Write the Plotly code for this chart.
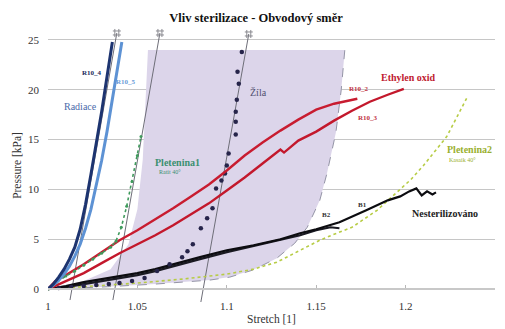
import plotly.graph_objects as go

# ---- measured curves: stretch [1] vs pressure [kPa] ----
r10_4_x = [1.000, 1.003, 1.006, 1.009, 1.012, 1.015, 1.018, 1.021, 1.024, 1.027, 1.030, 1.033, 1.036]
r10_4_p = [0, 0.5, 1.2, 2.0, 3.0, 4.2, 6.0, 8.5, 11.5, 14.5, 17.8, 21.3, 24.8]

r10_5_x = [1.000, 1.003, 1.006, 1.009, 1.012, 1.015, 1.018, 1.021, 1.024, 1.027, 1.030, 1.033, 1.036, 1.039, 1.0413]
r10_5_p = [0, 0.4, 0.9, 1.5, 2.3, 3.3, 4.5, 6.1, 8.0, 10.3, 12.9, 15.8, 19.0, 22.2, 24.8]

plet1_x = [1.000, 1.005, 1.010, 1.015, 1.020, 1.025, 1.030, 1.035, 1.038, 1.041, 1.044, 1.047, 1.050, 1.052]
plet1_p = [0, 0.7, 1.3, 1.8, 2.4, 3.0, 3.6, 4.2, 4.8, 6.2, 8.3, 10.8, 13.4, 15.3]

zila_x = [1.006, 1.013, 1.020, 1.027, 1.034, 1.040, 1.047, 1.054, 1.061, 1.068, 1.075, 1.078, 1.081, 1.0855,
          1.089, 1.092, 1.094, 1.097, 1.099, 1.100, 1.101, 1.105, 1.105, 1.105, 1.1056, 1.1067, 1.106, 1.1084]
zila_p = [0.1, 0.2, 0.3, 0.4, 0.5, 0.6, 0.8, 1.1, 1.8, 2.5, 3.2, 3.8, 4.5, 6.1,
          7.1, 8.1, 10.1, 10.9, 11.6, 12.4, 13.6, 15.5, 16.8, 17.8, 19.0, 20.6, 21.8, 23.8]

r10_2_x = [1.000, 1.004, 1.010, 1.020, 1.030, 1.040, 1.050, 1.060, 1.070, 1.080, 1.090, 1.100, 1.110,
           1.120, 1.130, 1.140, 1.150, 1.160, 1.173]
r10_2_p = [0, 0.8, 1.4, 2.5, 3.7, 4.9, 5.9, 7.0, 8.1, 9.3, 10.5, 11.9, 13.4, 14.7, 15.9, 17.0, 18.0, 18.6, 19.1]

r10_3_x = [1.000, 1.005, 1.010, 1.020, 1.030, 1.040, 1.050, 1.060, 1.070, 1.080, 1.090, 1.100, 1.110,
           1.120, 1.130, 1.132, 1.140, 1.150, 1.160, 1.170, 1.180, 1.190, 1.199]
r10_3_p = [0, 0.4, 0.8, 1.6, 2.6, 3.6, 4.5, 5.4, 6.4, 7.5, 8.6, 9.9, 11.2, 12.6, 14.0, 13.7, 14.9, 15.8,
           16.9, 17.9, 18.8, 19.5, 20.1]

b1_x = [1.000, 1.010, 1.020, 1.030, 1.040, 1.050, 1.060, 1.070, 1.085, 1.100, 1.115, 1.130, 1.141, 1.150,
        1.163, 1.178, 1.190, 1.197, 1.202, 1.206, 1.209, 1.212, 1.215, 1.217]
b1_p = [0, 0.3, 0.7, 1.0, 1.3, 1.6, 2.0, 2.5, 3.2, 3.9, 4.4, 5.0, 5.6, 6.0, 6.7, 7.9, 8.9, 9.3, 9.8, 10.1,
        9.4, 9.8, 9.5, 9.7]

b2_x = [1.000, 1.010, 1.020, 1.030, 1.040, 1.050, 1.060, 1.070, 1.085, 1.100, 1.115, 1.130, 1.141, 1.150,
        1.158, 1.163]
b2_p = [0, 0.2, 0.5, 0.8, 1.1, 1.4, 1.8, 2.3, 3.0, 3.7, 4.3, 4.9, 5.4, 5.9, 6.2, 6.1]

plet2_x = [1.000, 1.025, 1.050, 1.075, 1.100, 1.115, 1.128, 1.1335, 1.141, 1.152, 1.160, 1.170, 1.184,
           1.1966, 1.203, 1.210, 1.223, 1.2346]
plet2_p = [0, 0.3, 0.6, 1.0, 1.5, 2.0, 2.7, 3.2, 3.9, 4.9, 5.5, 6.2, 7.9, 9.9, 11.0, 12.4, 15.3, 19.3]

# envelope of the vein (Žíla) region
env_x = [1.000, 1.030, 1.060, 1.0905, 1.1017, 1.1145, 1.128, 1.138, 1.145, 1.152, 1.156, 1.161, 1.164, 1.166]
env_p = [0, 0.2, 0.5, 0.9, 1.2, 1.9, 3.1, 4.6, 6.2, 8.9, 11.6, 15.7, 20.0, 24.0]
env_left_x = [1.0559, 1.053, 1.050, 1.045, 1.035, 1.020, 1.000]
env_left_p = [24.0, 13.0, 8.0, 4.5, 2.0, 0.8, 0]

# tangent lines (start / end points)
tan_x0 = [1.0123, 1.0363, 1.0855]
tan_p0 = [-1.1, -1.1, -1.3]
tan_x1 = [1.0385, 1.0626, 1.1123]
tan_p1 = [25.7, 25.7, 25.6]

x_ticks = [1, 1.05, 1.1, 1.15, 1.2, 1.25]
x_tick_text = ["1", "1.05", "1.1", "1.15", "1.2", "1.25"]
y_ticks = [0, 5, 10, 15, 20, 25]

SERIF = "Liberation Serif, Times New Roman, DejaVu Serif, serif"
Y_MIN, Y_MAX = -1.6, 26.4

fig = go.Figure()

# shaded region
fig.add_trace(go.Scatter(
    x=env_x + env_left_x, y=env_p + env_left_p, mode="lines", fill="toself",
    fillcolor="#dcd5ea", line=dict(width=0), hoverinfo="skip", showlegend=False))
fig.add_trace(go.Scatter(x=env_x, y=env_p, mode="lines",
                         line=dict(color="#9494a6", width=1, dash="dash"), showlegend=False))

# tangent lines with hash end markers
for xa, pa, xb, pb in zip(tan_x0, tan_p0, tan_x1, tan_p1):
    fig.add_trace(go.Scatter(x=[xa, xb], y=[pa, pb], mode="lines",
                             line=dict(color="#6e6e78", width=1), showlegend=False))
fig.add_trace(go.Scatter(x=tan_x1, y=tan_p1, mode="markers",
                         marker=dict(symbol="hash-open", size=8, color="#8a8a90",
                                     line=dict(color="#8a8a90", width=1)),
                         showlegend=False))

# curves
fig.add_trace(go.Scatter(x=plet2_x, y=plet2_p, mode="lines",
                         line=dict(color="#b7cc45", width=1.6, dash="dot"), showlegend=False))
fig.add_trace(go.Scatter(x=b2_x, y=b2_p, mode="lines",
                         line=dict(color="#1a1a22", width=2.2), showlegend=False))
fig.add_trace(go.Scatter(x=b1_x, y=b1_p, mode="lines",
                         line=dict(color="#0c0c10", width=2.2), showlegend=False))
fig.add_trace(go.Scatter(x=zila_x, y=zila_p, mode="markers",
                         marker=dict(color="#26244a", size=4.5), showlegend=False))
fig.add_trace(go.Scatter(x=r10_3_x, y=r10_3_p, mode="lines",
                         line=dict(color="#c3182c", width=2.4), showlegend=False))
fig.add_trace(go.Scatter(x=r10_2_x, y=r10_2_p, mode="lines",
                         line=dict(color="#c81c30", width=2.4), showlegend=False))
fig.add_trace(go.Scatter(x=plet1_x, y=plet1_p, mode="lines+markers",
                         line=dict(color="#3f9a5c", width=1.6, dash="dot"),
                         marker=dict(size=3, color="#3f9a5c"), showlegend=False))
fig.add_trace(go.Scatter(x=r10_5_x, y=r10_5_p, mode="lines",
                         line=dict(color="#5d92d4", width=3), showlegend=False))
fig.add_trace(go.Scatter(x=r10_4_x, y=r10_4_p, mode="lines",
                         line=dict(color="#1d3470", width=3), showlegend=False))

# curve labels
labels = [
    ("R10_4", 1.0246, 21.7, "#1b2a5a", 7, True),
    ("R10_5", 1.0435, 20.8, "#6a9bd8", 7, True),
    ("Radiace", 1.0179, 18.3, "#4a6aaa", 10, False),
    ("Pletenina1", 1.0725, 12.75, "#3a9070", 10, True),
    ("Ratit 40°", 1.0685, 11.75, "#3a9070", 6, False),
    ("Žíla", 1.118, 19.7, "#505070", 10, False),
    ("Ethylen oxid", 1.2017, 21.2, "#c02030", 10, True),
    ("R10_2", 1.174, 20.1, "#c03040", 7, True),
    ("R10_3", 1.179, 17.2, "#c03040", 7, True),
    ("Pletenina2", 1.2358, 14.0, "#9ab030", 10, True),
    ("Kasaik 40°", 1.232, 12.95, "#9ab030", 6, False),
    ("Nesterilizováno", 1.2223, 7.6, "#222222", 10, True),
    ("B1", 1.176, 8.4, "#333333", 7, True),
    ("B2", 1.156, 7.4, "#333333", 7, True),
]
for text, lx, ly, color, size, bold in labels:
    fig.add_annotation(x=lx, y=ly, xref="x", yref="y", showarrow=False,
                       text=f"<b>{text}</b>" if bold else text,
                       font=dict(family=SERIF, size=size, color=color))

fig.update_layout(
    width=505, height=329,
    margin=dict(l=48, r=10, t=26, b=24),
    paper_bgcolor="white", plot_bgcolor="white",
    font=dict(family=SERIF, color="#333333"),
    title=dict(text="<b>Vliv sterilizace - Obvodový směr</b>",
               x=0.507, xanchor="center", y=0.945, yanchor="middle",
               font=dict(family=SERIF, size=12.5, color="#111111")),
    showlegend=False,
)
fig.update_xaxes(
    range=[1, 1.25], tickvals=x_ticks, ticktext=x_tick_text,
    anchor="free", position=(0 - Y_MIN) / (Y_MAX - Y_MIN),
    showline=True, linecolor="#c8c8c8", linewidth=1.5,
    ticks="inside", ticklen=3, tickcolor="#b8b8b8",
    ticklabelstandoff=7, automargin=False,
    showgrid=False, zeroline=False,
    tickfont=dict(family=SERIF, size=11, color="#333333"),
    title=dict(text="Stretch [1]", standoff=3, font=dict(family=SERIF, size=11.5, color="#333333")),
)
fig.update_yaxes(
    range=[Y_MIN, Y_MAX], tickvals=y_ticks,
    showgrid=True, gridcolor="#c6c6c6", gridwidth=1.3,
    zeroline=False, showline=False, ticks="",
    ticklabelstandoff=8, automargin=False,
    tickfont=dict(family=SERIF, size=11, color="#333333"),
    title=dict(text="Pressure [kPa]", standoff=3, font=dict(family=SERIF, size=11.5, color="#333333")),
)

fig.write_html("out.html")
